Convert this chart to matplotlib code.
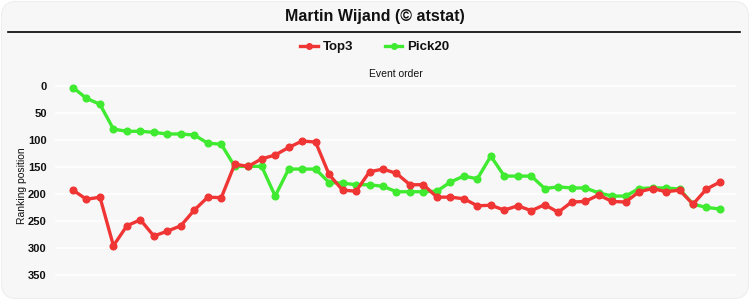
import matplotlib
matplotlib.use("Agg")
import matplotlib.pyplot as plt
from matplotlib.patches import FancyBboxPatch
from matplotlib.lines import Line2D

title = "Martin Wijand (© atstat)"
series_names = ["Top3", "Pick20"]
top3 = [193, 210, 206, 296, 259, 248, 278, 269, 259, 230, 206, 207, 145, 149,
        135, 128, 114, 102, 104, 164, 193, 195, 159, 154, 162, 183, 183, 206,
        206, 209, 222, 221, 230, 222, 231, 220, 234, 215, 214, 202, 214, 215,
        196, 190, 196, 193, 219, 191, 178]
pick20 = [3, 23, 34, 80, 84, 84, 86, 89, 89, 91, 106, 108, 149, 149,
          149, 204, 154, 154, 154, 179, 180, 183, 183, 186, 196, 196, 196, 195,
          178, 167, 172, 130, 167, 167, 167, 190, 187, 189, 189, 198, 204, 204,
          190, 189, 189, 191, 219, 225, 228]
yticks = [0, 50, 100, 150, 200, 250, 300, 350]

W, H = 750, 300
fig = plt.figure(figsize=(7.5, 3.0), dpi=100)
fig.patch.set_facecolor("white")
bg = FancyBboxPatch((1.5 / W, 1.5 / H), (W - 3) / W, (H - 3) / H,
                    boxstyle="round,pad=0,rounding_size=0.02",
                    transform=fig.transFigure, facecolor="#f7f7f7",
                    edgecolor="#eeeeee", linewidth=0.8, mutation_aspect=W / H,
                    zorder=-10)
fig.patches.append(bg)

fig.text(375 / W, 1 - 17 / H, title, ha="center", va="center",
         fontsize=11.5, fontweight="bold", family="Liberation Sans", color="#111111")
fig.add_artist(Line2D([8 / W, 740 / W], [1 - 32 / H, 1 - 32 / H],
                      transform=fig.transFigure, color="black", linewidth=1.2))

ax_l, ax_r, ax_t, ax_b = 55, 736, 80, 290
ax = fig.add_axes([ax_l / W, 1 - ax_b / H, (ax_r - ax_l) / W, (ax_b - ax_t) / H])
ax.set_facecolor("#f7f7f7")
x = list(range(len(top3)))
red = "#f03535"
green = "#3fea30"
ax.plot(x, pick20, color=green, lw=2.4, marker="o", ms=4.8, label=series_names[1], zorder=3)
ax.plot(x, top3, color=red, lw=2.4, marker="o", ms=4.8, label=series_names[0], zorder=4)

ax.set_xlim(-1.335, 49.19)
ax.set_ylim(378, -11)
ax.set_yticks(yticks)
ax.set_yticklabels([str(t) for t in yticks], fontweight="bold", fontsize=8,
                   family="Liberation Sans", color="#111111")
ax.set_xticks([])
ax.tick_params(axis="y", length=0, pad=6)
ax.grid(axis="y", color="white", lw=1.2)
ax.set_axisbelow(True)
for s in ax.spines.values():
    s.set_visible(False)

fig.text(22 / W, 1 - 186 / H, "Ranking position", rotation=90, ha="center",
         va="center", fontsize=7.5, family="Liberation Sans", color="#111111")
fig.text(396 / W, 1 - 74 / H, "Event order", ha="center", va="center",
         fontsize=7.5, family="Liberation Sans", color="#111111")

h_red = Line2D([], [], color=red, lw=2.4, marker="o", ms=4)
h_green = Line2D([], [], color=green, lw=2.4, marker="o", ms=4)
leg = fig.legend([h_red, h_green], series_names, loc="center",
                 bbox_to_anchor=(375 / W, 1 - 47 / H), ncol=2, frameon=False,
                 handlelength=1.3, handletextpad=0.4, columnspacing=2.4,
                 prop={"family": "Liberation Sans", "weight": "bold", "size": 9.5})
for t in leg.get_texts():
    t.set_color("#111111")

fig.savefig("out.png", dpi=100, facecolor="white")
